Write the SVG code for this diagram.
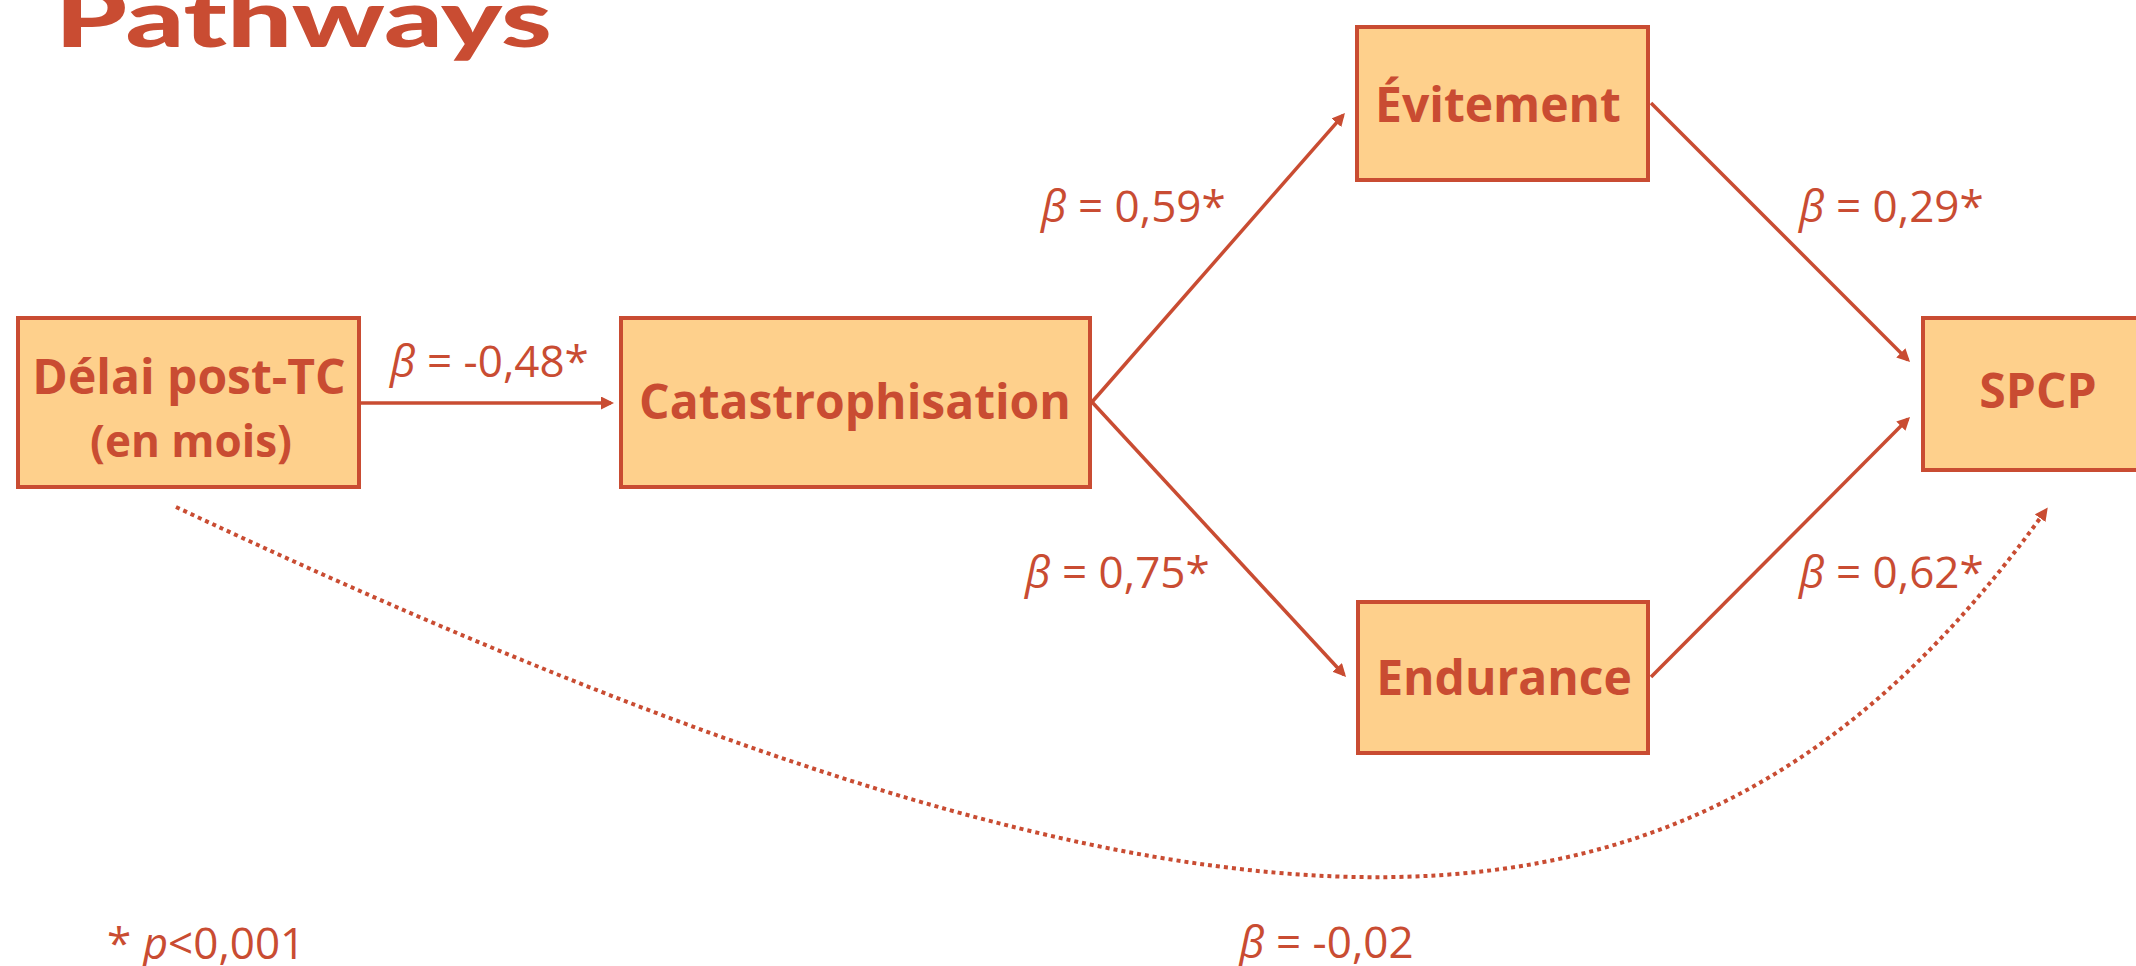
<svg xmlns="http://www.w3.org/2000/svg" width="2136" height="966" viewBox="0 0 2136 966">
<style>
.box{fill:#FED08C;stroke:#C94C32;stroke-width:4}
.nt{font-family:"Open Sans","Noto Sans",sans-serif;font-weight:700;font-size:48px;fill:#C94C32;text-anchor:middle}
.lbl{font-family:"Open Sans","Noto Sans",sans-serif;font-weight:400;font-size:44px;fill:#C94C32}
.it{font-style:italic}
.ln{stroke:#C94C32;stroke-width:3.5;fill:none}
.dot{stroke:#C94C32;stroke-width:4;fill:none;stroke-dasharray:4 4}
.title{font-family:Lato,"Open Sans",sans-serif;font-weight:900;font-size:80px;fill:#C94C32}
</style>
<defs>
<marker id="ah" markerUnits="userSpaceOnUse" markerWidth="14" markerHeight="14" viewBox="0 0 14 14" refX="10" refY="6.5" orient="auto">
<path d="M0,0 L13,6.5 L0,13 Z" fill="#C94C32"/>
</marker>
</defs>
<rect width="2136" height="966" fill="#FFFFFF"/>
<text class="title" x="55" y="47" textLength="497" lengthAdjust="spacingAndGlyphs">Pathways</text>

<g id="connectors">
<line class="ln" x1="361" y1="403" x2="611" y2="403" marker-end="url(#ah)"/>
<line class="ln" x1="1092" y1="402" x2="1343" y2="115.3" marker-end="url(#ah)"/>
<line class="ln" x1="1092" y1="402" x2="1344" y2="674.8" marker-end="url(#ah)"/>
<line class="ln" x1="1651" y1="103" x2="1907.9" y2="359.9" marker-end="url(#ah)"/>
<line class="ln" x1="1651" y1="677" x2="1907.9" y2="419.1" marker-end="url(#ah)"/>
<path class="dot" d="M176,507 C1256,1015 1706,985 2046,510" marker-end="url(#ah)"/>
</g>

<g id="node-delai">
<rect class="box" x="18" y="318" width="341" height="169"/>
<text class="nt" x="189" y="394">Délai post-TC</text>
<text class="nt" x="191" y="457" style="font-size:44px">(en mois)</text>
</g>
<g id="node-catastrophisation">
<rect class="box" x="621" y="318" width="469" height="169"/>
<text class="nt" x="855" y="419">Catastrophisation</text>
</g>
<g id="node-evitement">
<rect class="box" x="1357" y="27" width="291" height="153"/>
<text class="nt" x="1498" y="122">Évitement</text>
</g>
<g id="node-endurance">
<rect class="box" x="1358" y="602" width="290" height="151"/>
<text class="nt" x="1504" y="695">Endurance</text>
</g>
<g id="node-spcp">
<rect class="box" x="1923" y="318" width="240" height="152"/>
<text class="nt" x="2038" y="408">SPCP</text>
</g>

<g id="labels">
<text class="lbl" x="390" y="377"><tspan class="it">β</tspan> = -0,48*</text>
<text class="lbl" x="1041" y="222"><tspan class="it">β</tspan> = 0,59*</text>
<text class="lbl" x="1025" y="588"><tspan class="it">β</tspan> = 0,75*</text>
<text class="lbl" x="1799" y="222"><tspan class="it">β</tspan> = 0,29*</text>
<text class="lbl" x="1799" y="588"><tspan class="it">β</tspan> = 0,62*</text>
<text class="lbl" x="1239" y="958"><tspan class="it">β</tspan> = -0,02</text>
<text class="lbl" x="107" y="959">* <tspan class="it">p</tspan>&lt;0,001</text>
</g>
</svg>
